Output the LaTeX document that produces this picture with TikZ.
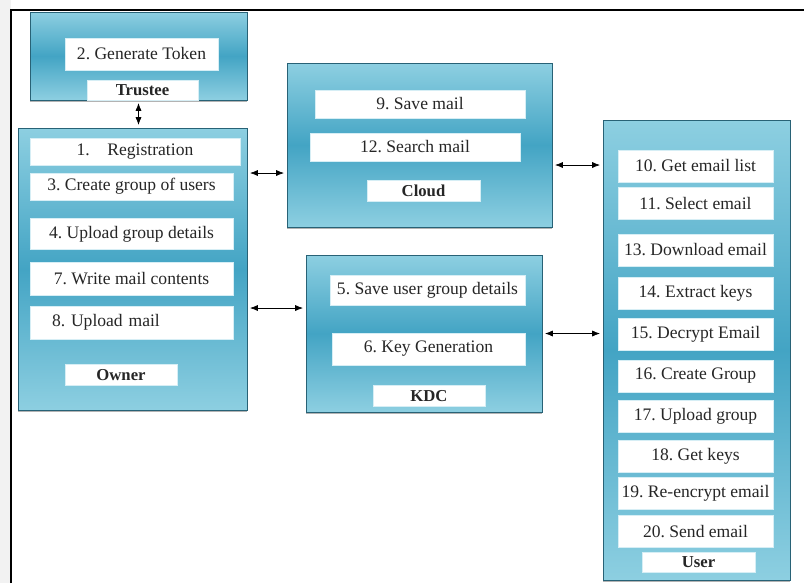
\documentclass[tikz,border=0pt]{standalone}
\usepackage{fontspec}
\setmainfont{Liberation Serif}
\frenchspacing
\usetikzlibrary{arrows.meta,fit,shadows}
\definecolor{panelEdge}{HTML}{8DCFE1}
\definecolor{panelMid}{HTML}{43A4C4}
\definecolor{itemLine}{HTML}{D6EEF5}
\tikzset{
  panel/.style={inner sep=0pt, draw=panelMid!60!black, top color=panelEdge, bottom color=panelEdge, middle color=panelMid,
    drop shadow={shadow xshift=0pt, shadow yshift=-1.2pt, opacity=0.6}},
  item/.style={fill=white, draw=itemLine, minimum height=0.62cm, inner sep=1pt, text=black!85, font=\fontsize{10}{12}\selectfont},
  tag/.style={item, minimum height=0.42cm, minimum width=2.24cm, font=\fontsize{9.5}{11}\selectfont\bfseries},
  link/.style={thin, {Latex[length=4.5pt,width=3.5pt]}-{Latex[length=4.5pt,width=3.5pt]}, shorten <=1.5pt, shorten >=1.5pt}
}
\begin{document}
\begin{tikzpicture}[x=0.02cm, y=-0.02cm]
        \useasboundingbox (0,0) rectangle (804,583);
        \fill[gray!10] (0,0) rectangle (11,583);
        \draw[line width=0.8pt] (11,583) -- (11,10) -- (804,10);

        \node[panel, fit={(30,12)(247,100)}] (trustee) {};
        \node[panel, fit={(18,128)(247,410)}] (owner) {};
        \node[panel, fit={(287,63)(552,227)}] (cloud) {};
        \node[panel, fit={(306,255)(542,412)}] (kdc) {};
        \node[panel, fit={(603,120)(790,580)}] (user) {};

        \node[item, minimum width=3.06cm, minimum height=0.64cm] (token) at (141.5,54) {2. Generate Token};
        \node[tag, minimum width=2.22cm, minimum height=0.4cm] (trusteetag) at (142.5,90) {Trustee};

        \node[item, minimum width=4.2cm, minimum height=0.54cm] (reg) at (135,151.5) {1.\quad Registration};
        \node[item, minimum width=4.06cm, minimum height=0.54cm] (creategroup) at (131.5,186.5) {3. Create group of users};
        \node[item, minimum width=4.06cm] (uploadgroup) at (131.5,234) {4. Upload group details};
        \node[item, minimum width=4.06cm, minimum height=0.66cm] (writemail) at (131.5,278.5) {7. Write mail contents};
        \node[item, minimum height=0.66cm, inner xsep=0.44cm, text width=3.18cm, align=left] (uploadmail) at (131.5,322.5) {8. Upload mail};
        \node[tag] (ownertag) at (121,375) {Owner};

        \node[item, minimum width=4.2cm, minimum height=0.56cm] (savemail) at (420,104) {9. Save mail};
        \node[item, minimum width=4.2cm, minimum height=0.56cm] (searchmail) at (415,147) {12. Search mail};
        \node[tag, minimum width=2.26cm] (cloudtag) at (423.5,191) {Cloud};

        \node[item, minimum width=3.9cm, minimum height=0.6cm] (savegroup) at (427.5,290) {5. Save user group details};
        \node[item, minimum width=3.86cm, minimum height=0.64cm] (keygen) at (428.5,349) {6. Key Generation};
        \node[tag] (kdctag) at (429,396) {KDC};

        \foreach \i/\y/\t in {10/166/{10. Get email list},
        11/203.5/{11. Select email},
        13/250/{13. Download email},
        14/293/{14. Extract keys},
        15/334/{15. Decrypt Email},
        16/376/{16. Create Group},
        17/416/{17. Upload group},
        18/456/{18. Get keys},
        19/493.5/{19. Re-encrypt email},
        20/531.5/{20. Send email}}{
            \node[item, minimum width=3.1cm, minimum height=0.64cm] (u\i) at (695.5,\y) {\t};
        }
        \node[tag, minimum width=2.26cm, minimum height=0.4cm] (usertag) at (698.5,562) {User};

        \coordinate (oc) at (0,173);
        \coordinate (cu) at (0,165);
        \coordinate (ok) at (0,308);
        \draw[link] (trustee.south) -- (trustee.south |- owner.north);
        \draw[link] (owner.east |- oc) -- (cloud.west |- oc);
        \draw[link] (cloud.east |- cu) -- (user.west |- cu);
        \draw[link] (owner.east |- ok) -- (kdc.west |- ok);
        \draw[link] (kdc.east) -- (kdc.east -| user.west);
    \end{tikzpicture}
\end{document}
